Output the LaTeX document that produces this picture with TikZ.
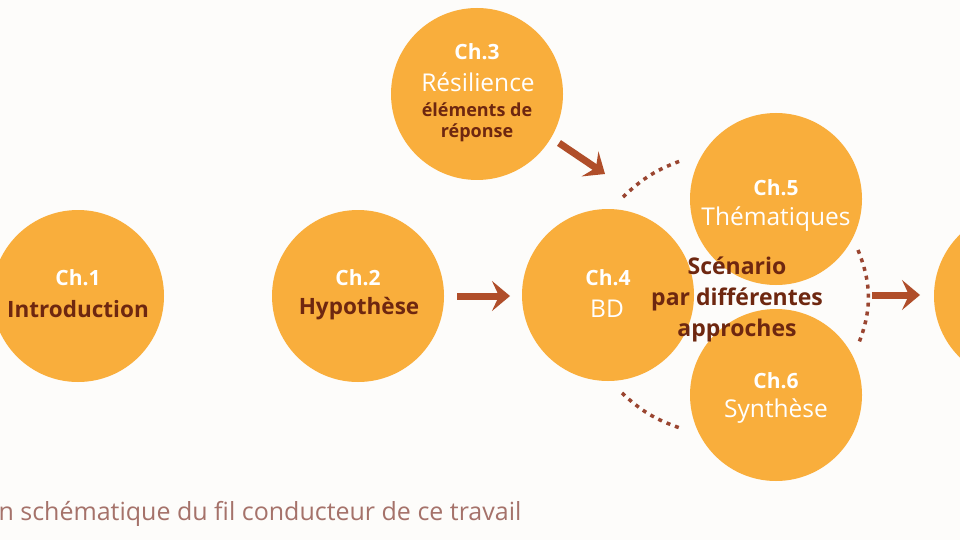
\documentclass[tikz,border=0pt]{standalone}
\usepackage{fontspec}
\setmainfont{Open Sans}
\usetikzlibrary{arrows.meta}
\definecolor{circ}{HTML}{F9AE3C}
\definecolor{dbrown}{HTML}{6E2710}
\definecolor{arr}{HTML}{B04E2A}
\definecolor{dots}{HTML}{9A4530}
\definecolor{capt}{HTML}{A5726A}
\definecolor{bg}{HTML}{FDFCFA}
\tikzset{
  chap/.style={circle, fill=circ, minimum size=172pt, inner sep=0pt},
  wb/.style={text=white, font=\bfseries\fontsize{21}{24}\selectfont},
  wr/.style={text=white, font=\fontsize{24.5}{27}\selectfont},
  db/.style={text=dbrown, font=\bfseries\fontsize{22.5}{25}\selectfont},
  dbs/.style={text=dbrown, font=\bfseries\fontsize{18}{20}\selectfont},
  bigarrow/.style={draw=arr, line width=7pt, -{Stealth[length=18pt, width=30pt, inset=7pt]}},
  dotarc/.style={draw=dots, line width=3.5pt, dash pattern=on 4pt off 5pt},
}
\begin{document}
\begin{tikzpicture}[x=1pt, y=-1pt]
\useasboundingbox (0,0) rectangle (960,540);
\clip (0,0) rectangle (960,540);
\fill[bg] (0,0) rectangle (960,540);

% circles
\node[chap] (c1) at (78,296) {};
\node[chap] (c2) at (358,296) {};
\node[chap] (c3) at (477,94) {};
\node[chap] (c4) at (608,295) {};
\node[chap] (c5) at (776,199) {};
\node[chap] (c6) at (776,395) {};
\node[chap] (c7) at (1020,296) {};

% texts
\node[wb] (t1a) at (78,278) {Ch.1};
\node[db] (t1b) at (78,309) {Introduction};
\node[wb] (t2a) at (358,278) {Ch.2};
\node[db] (t2b) at (359,309) {Hypothèse};
\node[wb] (t3a) at (477,52) {Ch.3};
\node[wr] (t3b) at (478,82) {Résilience};
\node[dbs] (t3c) at (477,110) {éléments de};
\node[dbs] (t3d) at (477,133) {réponse};
\node[wb] (t4a) at (608,278) {Ch.4};
\node[wr] (t4b) at (607,309) {BD};
\node[wb] (t5a) at (776,188) {Ch.5};
\node[wr] (t5b) at (776,219) {Thématiques};
\node[wb] (t6a) at (776,381) {Ch.6};
\node[wr] (t6b) at (776,411) {Synthèse};
\node[db, align=center, font=\bfseries\fontsize{23}{31}\selectfont] (scen) at (737,299) {Scénario\\par différentes\\approches};

% arrows
\coordinate (a2s) at (457,296);
\coordinate (a2e) at (510,296);
\coordinate (a3s) at (559,143);
\coordinate (a3e) at (605,174);
\coordinate (a5s) at (872,295);
\coordinate (a5e) at (920,295);
\draw[bigarrow] (a2s) -- (a2e);
\draw[bigarrow] (a3s) -- (a3e);
\draw[bigarrow] (a5s) -- (a5e);

% dotted arcs
\coordinate (d1s) at (623,197);
\coordinate (d1e) at (683,160);
\coordinate (d2s) at (622,393);
\coordinate (d2e) at (680,428);
\coordinate (d3s) at (858,250);
\coordinate (d3e) at (858,345);
\draw[dotarc] (d1s) to[bend left=12] (d1e);
\draw[dotarc] (d2s) to[bend right=12] (d2e);
\draw[dotarc] (d3s) to[bend left=22] (d3e);

% caption
\node[text=capt, font=\fontsize{25}{28}\selectfont, anchor=west] (cap) at (-5,514) {n schématique du fil conducteur de ce travail};
\end{tikzpicture}
\end{document}
